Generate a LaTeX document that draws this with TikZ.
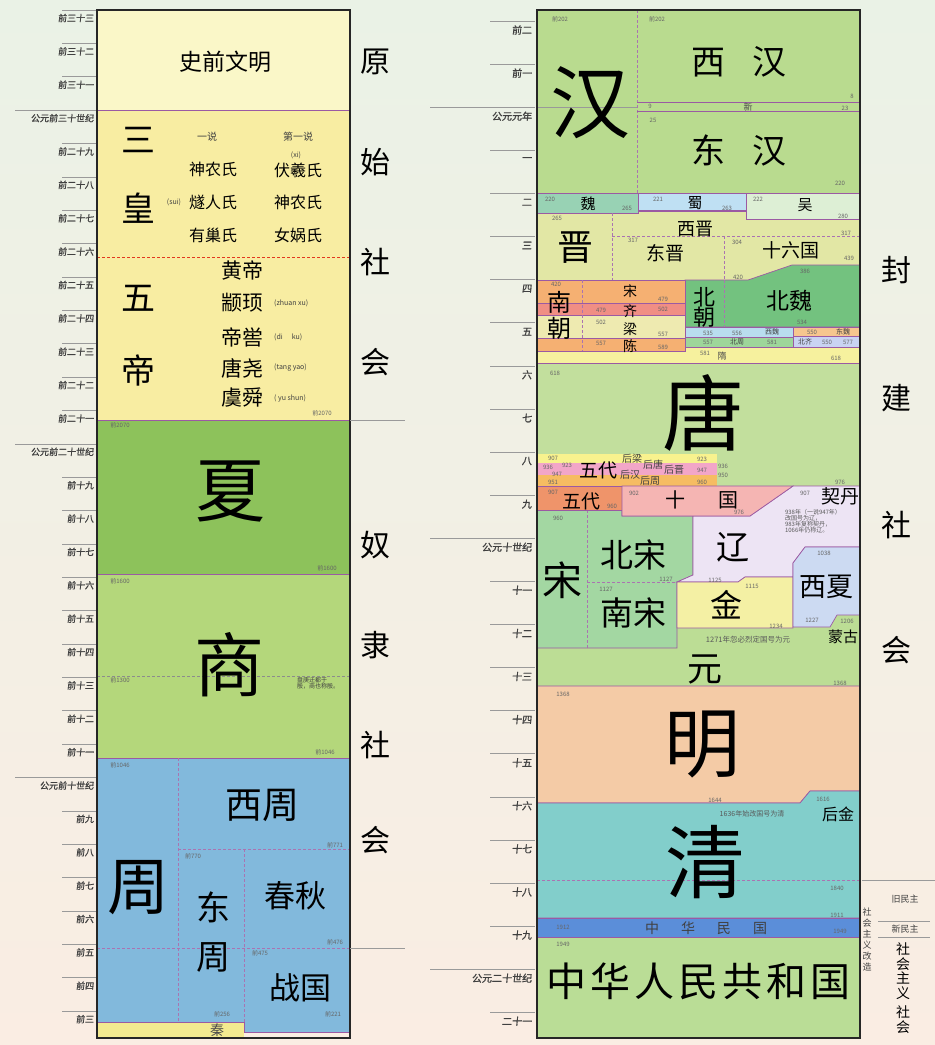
\documentclass[tikz,border=0pt]{standalone}
\usepackage{fontspec}
\setmainfont{Noto Sans CJK SC}
\newfontfamily\tickfont{Noto Sans CJK SC}[FakeBold=1.2,FakeSlant=0.1]
\usetikzlibrary{positioning,calc}

\newcommand\setfs[1]{\fontsize{#1}{#1}\selectfont}

\definecolor{bgtop}{HTML}{EAF2E6}
\definecolor{bgbot}{HTML}{FAEDE3}
\definecolor{tickc}{HTML}{9A9A9A}
\definecolor{linep}{HTML}{9B5AA3}
\definecolor{preyel}{HTML}{FAF7C8}
\definecolor{sanhuang}{HTML}{F8EDA2}
\definecolor{xia}{HTML}{8DC25B}
\definecolor{shang}{HTML}{B4D77B}
\definecolor{zhou}{HTML}{82B9DC}
\definecolor{qin}{HTML}{F3EA90}
\definecolor{han}{HTML}{B9DB8F}
\definecolor{wei}{HTML}{98D2B4}
\definecolor{shu}{HTML}{BFE0F3}
\definecolor{wu}{HTML}{DDEFD5}
\definecolor{jin}{HTML}{E2E7A5}
\definecolor{beiwei}{HTML}{73C27F}
\definecolor{nanorange}{HTML}{F5B072}
\definecolor{qi}{HTML}{F08E84}
\definecolor{liang}{HTML}{EEEAB0}
\definecolor{xiwei}{HTML}{B9DDEF}
\definecolor{dongwei}{HTML}{F6C68E}
\definecolor{beizhou}{HTML}{9ED69A}
\definecolor{beiqi}{HTML}{C9D3F2}
\definecolor{sui}{HTML}{F6F19E}
\definecolor{tang}{HTML}{C2DF9D}
\definecolor{wdyel}{HTML}{F8F28E}
\definecolor{wdpink}{HTML}{F2A6C8}
\definecolor{wdorange}{HTML}{F6BC62}
\definecolor{wdred}{HTML}{EF946A}
\definecolor{shiguo}{HTML}{F5B5B3}
\definecolor{liao}{HTML}{EDE4F4}
\definecolor{song}{HTML}{A3D7A2}
\definecolor{jinyel}{HTML}{F4F0A4}
\definecolor{xixia}{HTML}{CCDAF2}
\definecolor{yuan}{HTML}{BCDD95}
\definecolor{ming}{HTML}{F4CBA6}
\definecolor{qing}{HTML}{82CECB}
\definecolor{mg}{HTML}{5B8ED9}
\definecolor{prc}{HTML}{BADD96}

\begin{document}
\begin{tikzpicture}[
        x = 1pt, y = -1pt,
        blk/.style = {draw=linep, line width=0.7pt},
        dsep/.style = {draw=linep!85, line width=0.6pt, dash pattern=on 3pt off 2pt},
        tick/.style = {draw=tickc, line width=0.6pt},
        ticklab/.style = {anchor=east, inner sep=0pt, text=black!75},
        dyn/.style = {inner sep=0pt, font=\setfs{#1}},
        note/.style = {inner sep=0pt, font=\setfs{#1}, text=black!75},
        yr/.style = {inner sep=0pt, font=\setfs{6}, text=black!60},
        era/.style = {inner sep=0pt, font=\setfs{30}}
    ]
    \useasboundingbox (0,0) rectangle (935,1045);
    \shade [top color=bgtop, bottom color=bgbot] (0,0) rectangle (935,1045);

    % Axes
    \foreach \k/\t in {0/前三十三,1/前三十二,2/前三十一,3/公元前三十世纪,4/前二十九,5/前二十八,6/前二十七,7/前二十六,8/前二十五,9/前二十四,10/前二十三,11/前二十二,12/前二十一,13/公元前二十世纪,14/前十九,15/前十八,16/前十七,17/前十六,18/前十五,19/前十四,20/前十三,21/前十二,22/前十一,23/公元前十世纪,24/前九,25/前八,26/前七,27/前六,28/前五,29/前四,30/前三}{
        \draw [tick] (62,{10+33.37*\k}) -- (96,{10+33.37*\k});
        \node [ticklab, font={\tickfont\setfs{9}}] at (94,{18+33.37*\k}) (lt\k) {\t};
    }
    \foreach \k in {3,13,23} \draw [tick] (15,{10+33.37*\k}) -- (62,{10+33.37*\k});

    \foreach \k/\t in {0/前二,1/前一,2/公元元年,3/一,4/二,5/三,6/四,7/五,8/六,9/七,10/八,11/九,12/公元十世纪,13/十一,14/十二,15/十三,16/十四,17/十五,18/十六,19/十七,20/十八,21/十九,22/公元二十世纪,23/二十一}{
        \draw [tick] (490,{21+43.1*\k}) -- (535,{21+43.1*\k});
        \node [ticklab, font={\tickfont\setfs{10}}] at (532,{30+43.1*\k}) (rt\k) {\t};
    }
    \foreach \k in {2,12,22} \draw [tick] (430,{21+43.1*\k}) -- (490,{21+43.1*\k});

    % Left column blocks
    \fill [preyel] (97,10) rectangle (350,110);
    \fill [sanhuang] (97,110) rectangle (350,420);
    \fill [xia] (97,420) rectangle (350,574);
    \fill [shang] (97,574) rectangle (350,758);
    \fill [zhou] (97,758) rectangle (350,1022);
    \fill [zhou] (244,1022) rectangle (350,1032);
    \fill [qin] (97,1022) rectangle (244,1038);
    \draw [blk] (97,110) -- (350,110);
    \draw [blk] (97,420) -- (350,420);
    \draw [blk] (97,574) -- (350,574);
    \draw [blk] (97,758) -- (350,758);
    \draw [dsep, draw=red!55!brown] (97,257) -- (350,257);
    \draw [dsep, draw=black!45] (97,676) -- (350,676);
    \draw [dsep] (178,758) -- (178,1022);
    \draw [dsep] (178,849) -- (350,849);
    \draw [dsep] (244,849) -- (244,1022);
    \draw [dsep] (97,948) -- (350,948);
    \draw [blk] (97,1022) -- (244,1022) -- (244,1032) -- (350,1032);
    \draw [line width=1.3pt, black!85] (97,10) rectangle (350,1038);

    \node [dyn=23] at (225,62) (shiqian) {史前文明};
    \node [dyn=34] at (138,140) (san) {三};
    \node [dyn=34] at (138,208) (huang) {皇};
    \node [note=10] at (207,137) (yishuo) {一说};
    \node [note=10] at (298,137) (dishuo) {第一说};
    \node [note=7] at (296,155) (pxi) {(xi)};
    \node [dyn=16] at (213,169) (shennong1) {神农氏};
    \node [dyn=16] at (298,170) (fuxi) {伏羲氏};
    \node [note=7] at (174,202) (psui) {(sui)};
    \node [dyn=16] at (213,202) (suiren) {燧人氏};
    \node [dyn=16] at (298,202) (shennong2) {神农氏};
    \node [dyn=16] at (213,235) (youchao) {有巢氏};
    \node [dyn=16] at (298,235) (nuwa) {女娲氏};

    \node [dyn=34] at (138,298) (wu) {五};
    \node [dyn=34] at (138,370) (di) {帝};
    \node [dyn=21] at (242,270) (huangdi) {黄帝};
    \node [dyn=21] at (242,303) (zhuanxu) {颛顼};
    \node [dyn=21] at (242,337) (diku) {帝喾};
    \node [dyn=21] at (242,368) (tangyao) {唐尧};
    \node [dyn=21] at (242,398) (yushun) {虞舜};
    \node [note=7, anchor=west] at (274,303) (pzx) {(zhuan xu)};
    \node [note=7, anchor=west] at (274,337) (pdk) {(di\hspace{9pt}ku)};
    \node [note=7, anchor=west] at (274,368) (pty) {(tang yao)};
    \node [note=7, anchor=west] at (274,398) (pys) {( yu shun)};
    \node [yr] at (322,413) (y2070a) {前2070};

    \node [yr] at (120,425) (y2070b) {前2070};
    \node [dyn=70] at (230,492) (xiachao) {夏};
    \node [yr] at (327,568) (y1600a) {前1600};
    \node [yr] at (120,581) (y1600b) {前1600};
    \node [dyn=70] at (229,665) (shangchao) {商};
    \node [yr] at (120,680) (y1300) {前1300};
    \node [note=6, align=left] at (318,683) (pangeng) {盘庚迁都于\\殷，商也称殷。};
    \node [yr] at (325,752) (y1046a) {前1046};

    \node [yr] at (120,765) (y1046b) {前1046};
    \node [dyn=62] at (138,888) (zhouchao) {周};
    \node [dyn=37] at (262,805) (xizhou) {西周};
    \node [yr] at (335,845) (y771) {前771};
    \node [yr] at (193,856) (y770) {前770};
    \node [dyn=34] at (213,907) (dong) {东};
    \node [dyn=34] at (213,957) (zhou2) {周};
    \node [dyn=31] at (295,896) (chunqiu) {春秋};
    \node [yr] at (335,942) (y476) {前476};
    \node [yr] at (260,953) (y475) {前475};
    \node [dyn=31] at (300,988) (zhanguo) {战国};
    \node [yr] at (222,1014) (y256) {前256};
    \node [yr] at (333,1014) (y221) {前221};
    \node [dyn=14, text=black!70] at (217,1030) (qinchao) {秦};

    % Society labels, left
    \node [era] at (375,62) (yuan1) {原};
    \node [era] at (375,162) (yuan2) {始};
    \node [era] at (375,262) (yuan3) {社};
    \node [era] at (375,362) (yuan4) {会};
    \node [era] at (375,545) (nuli1) {奴};
    \node [era] at (375,645) (nuli2) {隶};
    \node [era] at (375,745) (nuli3) {社};
    \node [era] at (375,840) (nuli4) {会};
    \draw [tick] (350,420) -- (405,420);
    \draw [tick] (350,948) -- (405,948);

    % Right column blocks
    \filldraw [blk, fill=han] (537,10) rectangle (860,193);
    \draw [dsep] (637,10) -- (637,193);
    \draw [blk] (637,102) -- (860,102);
    \draw [blk] (637,111) -- (860,111);
    \draw [black!40, line width=0.4pt] (537,107) -- (637,107);
    \filldraw [blk, fill=jin] (537,211) rectangle (860,280);
    \filldraw [blk, fill=wei] (537,193) rectangle (638,213);
    \filldraw [blk, fill=shu] (638,193) rectangle (746,210);
    \filldraw [blk, fill=wu] (746,193) rectangle (860,219);
    \draw [dsep] (612,213) -- (612,280);
    \draw [dsep] (612,236) -- (860,236);
    \draw [dsep] (724,236) -- (724,280);
    \filldraw [blk, fill=beiwei] (685,280) -- (748,280) -- (792,265) -- (860,265) -- (860,327) -- (685,327) -- cycle;
    \draw [dsep] (724,280) -- (724,327);
    \filldraw [blk, fill=sui] (537,347) rectangle (860,363);
    \filldraw [blk, fill=nanorange] (537,280) rectangle (685,303);
    \filldraw [blk, fill=qi] (537,303) rectangle (685,315);
    \filldraw [blk, fill=liang] (537,315) rectangle (685,338);
    \filldraw [blk, fill=nanorange] (537,338) rectangle (685,351);
    \draw [dsep] (582,280) -- (582,351);
    \filldraw [blk, fill=xiwei] (685,327) rectangle (793,337);
    \filldraw [blk, fill=dongwei] (793,327) rectangle (860,336);
    \filldraw [blk, fill=beizhou] (685,337) rectangle (793,347);
    \filldraw [blk, fill=beiqi] (793,336) rectangle (860,347);

    \filldraw [blk, fill=tang] (537,363) rectangle (860,486);
    \fill [wdyel] (538,454) rectangle (717,463);
    \fill [wdpink] (538,463) rectangle (717,475);
    \fill [wdorange] (538,475) rectangle (717,486);

    \filldraw [blk, fill=yuan] (537,486) rectangle (860,686);
    \filldraw [blk, fill=song] (537,510) -- (622,510) -- (622,516) -- (693,516) -- (693,575) -- (677,582) -- (677,648) -- (537,648) -- cycle;
    \draw [dsep] (587,510) -- (587,648);
    \draw [dsep] (587,582) -- (677,582);
    \filldraw [blk, fill=wdred] (537,486) rectangle (622,510);
    \filldraw [blk, fill=liao] (693,516) -- (750,516) -- (793,486) -- (860,486) -- (860,547) -- (805,547) -- (793,563) -- (793,577) -- (745,577) -- (738,582) -- (677,582) -- (693,575) -- cycle;
    \filldraw [blk, fill=shiguo] (622,486) -- (793,486) -- (750,516) -- (622,516) -- cycle;
    \filldraw [blk, fill=jinyel] (677,582) -- (738,582) -- (745,577) -- (793,577) -- (793,628) -- (677,628) -- cycle;
    \filldraw [blk, fill=xixia] (793,563) -- (805,547) -- (860,547) -- (860,615) -- (837,615) -- (830,627) -- (793,627) -- cycle;

    \filldraw [blk, fill=ming] (537,686) -- (860,686) -- (860,791) -- (810,791) -- (800,803) -- (537,803) -- cycle;
    \filldraw [blk, fill=qing] (537,803) -- (800,803) -- (810,791) -- (860,791) -- (860,918) -- (537,918) -- cycle;
    \draw [dsep] (537,880) -- (860,880);
    \filldraw [blk, fill=mg] (537,918) rectangle (860,937);
    \filldraw [blk, fill=prc] (537,937) rectangle (860,1038);
    \draw [line width=1.3pt, black!85] (537,10) rectangle (860,1038);

    % Right column labels
    \node [yr] at (560,19) (r202a) {前202};
    \node [yr] at (657,19) (r202b) {前202};
    \node [dyn=80] at (590,103) (hanchao) {汉};
    \node [dyn=34] at (739,62) (xihan) {西\hspace{28pt}汉};
    \node [yr] at (852,96) (r8) {8};
    \node [yr] at (650,106) (r9) {9};
    \node [dyn=9, text=black!70] at (748,107) (xin) {新};
    \node [yr] at (845,108) (r23) {23};
    \node [yr] at (653,120) (r25) {25};
    \node [dyn=34] at (739,150) (donghan) {东\hspace{28pt}汉};
    \node [yr] at (840,183) (r220a) {220};

    \node [yr] at (550,199) (r220b) {220};
    \node [dyn=15] at (588,204) (weiguo) {魏};
    \node [yr] at (627,208) (r265a) {265};
    \node [yr] at (658,199) (r221) {221};
    \node [dyn=15] at (695,203) (shuguo) {蜀};
    \node [yr] at (727,208) (r263) {263};
    \node [yr] at (758,199) (r222) {222};
    \node [dyn=15] at (805,205) (wuguo) {吴};
    \node [yr] at (843,216) (r280) {280};

    \node [yr] at (557,218) (r265b) {265};
    \node [dyn=36] at (575,248) (jinchao) {晋};
    \node [dyn=18] at (695,229) (xijin) {西晋};
    \node [yr] at (846,233) (r317a) {317};
    \node [yr] at (633,240) (r317b) {317};
    \node [dyn=19] at (665,253) (dongjin) {东晋};
    \node [yr] at (737,242) (r304) {304};
    \node [dyn=19] at (791,250) (shiliuguo) {十六国};
    \node [yr] at (849,258) (r439) {439};
    \node [yr] at (805,271) (r386) {386};
    \node [yr] at (738,277) (r420a) {420};

    \node [yr] at (556,284) (r420b) {420};
    \node [dyn=24] at (559,302) (nan) {南};
    \node [dyn=24] at (559,328) (chao1) {朝};
    \node [dyn=14] at (630,291) (songnan) {宋};
    \node [dyn=14] at (630,311) (qinan) {齐};
    \node [dyn=14] at (630,329) (liangnan) {梁};
    \node [dyn=14] at (630,346) (chennan) {陈};
    \node [yr] at (663,299) (r479a) {479};
    \node [yr] at (601,310) (r479b) {479};
    \node [yr] at (663,309) (r502a) {502};
    \node [yr] at (601,322) (r502b) {502};
    \node [yr] at (663,334) (r557a) {557};
    \node [yr] at (601,343) (r557b) {557};
    \node [yr] at (663,347) (r589) {589};
    \node [dyn=22] at (704,297) (bei) {北};
    \node [dyn=22] at (704,317) (chao2) {朝};
    \node [dyn=23] at (789,301) (beiweiguo) {北魏};
    \node [yr] at (802,322) (r534) {534};
    \node [yr] at (708,333) (r535) {535};
    \node [yr] at (737,333) (r556) {556};
    \node [note=7] at (772,332) (xiweiguo) {西魏};
    \node [yr] at (812,332) (r550a) {550};
    \node [note=7] at (843,332) (dongweiguo) {东魏};
    \node [yr] at (708,342) (r557c) {557};
    \node [note=7] at (737,342) (beizhouguo) {北周};
    \node [yr] at (772,342) (r581a) {581};
    \node [note=7] at (805,342) (beiqiguo) {北齐};
    \node [yr] at (827,342) (r550b) {550};
    \node [yr] at (848,342) (r577) {577};
    \node [yr] at (705,353) (r581b) {581};
    \node [dyn=9, text=black!70] at (722,356) (suichao) {隋};
    \node [yr] at (836,358) (r618a) {618};

    \node [yr] at (555,373) (r618b) {618};
    \node [dyn=82] at (703,413) (tangchao) {唐};
    \node [yr] at (840,482) (r976a) {976};
    \node [yr] at (553,458) (r907a) {907};
    \node [note=10] at (632,459) (houliang) {后梁};
    \node [yr] at (702,459) (r923a) {923};
    \node [yr] at (548,467) (r936a) {936};
    \node [yr] at (567,465) (r923b) {923};
    \node [yr] at (557,474) (r947a) {947};
    \node [dyn=19] at (598,470) (wudai1) {五代};
    \node [note=10] at (653,465) (houtang) {后唐};
    \node [note=10] at (674,470) (houjin) {后晋};
    \node [note=10] at (630,475) (houhan) {后汉};
    \node [note=10] at (650,481) (houzhou) {后周};
    \node [yr] at (553,482) (r951) {951};
    \node [yr] at (702,470) (r947b) {947};
    \node [yr] at (702,482) (r960a) {960};
    \node [yr] at (723,466) (r936b) {936};
    \node [yr] at (723,475) (r950) {950};

    \node [yr] at (553,492) (r907b) {907};
    \node [dyn=19] at (581,501) (wudai2) {五代};
    \node [yr] at (612,506) (r960b) {960};
    \node [yr] at (634,493) (r902) {902};
    \node [dyn=20] at (675,500) (shi) {十};
    \node [dyn=20] at (728,500) (guo) {国};
    \node [yr] at (739,512) (r976b) {976};
    \node [yr] at (805,493) (r907c) {907};
    \node [dyn=19] at (840,496) (qidan) {契丹};
    \node [note=6, align=left, text=black!65] at (813,521) (liaonote) {938年（一说947年）\\改国号为辽，\\983年复称契丹，\\1066年仍称辽。};
    \node [dyn=33] at (733,547) (liaochao) {辽};

    \node [yr] at (558,518) (r960c) {960};
    \node [dyn=40] at (562,580) (songchao) {宋};
    \node [dyn=33] at (633,555) (beisong) {北宋};
    \node [yr] at (666,579) (r1127a) {1127};
    \node [yr] at (606,589) (r1127b) {1127};
    \node [dyn=33] at (633,613) (nansong) {南宋};
    \node [yr] at (715,580) (r1125) {1125};
    \node [yr] at (752,586) (r1115) {1115};
    \node [dyn=32] at (726,605) (jinguo) {金};
    \node [yr] at (776,626) (r1234) {1234};
    \node [yr] at (824,553) (r1038) {1038};
    \node [dyn=27] at (826,587) (xixiaguo) {西夏};
    \node [yr] at (812,620) (r1227) {1227};
    \node [yr] at (847,621) (r1206) {1206};
    \node [dyn=15] at (843,637) (menggu) {蒙古};
    \node [note=7.5, text=black!65] at (748,640) (yuannote) {1271年忽必烈定国号为元};
    \node [dyn=35] at (705,670) (yuanchao) {元};
    \node [yr] at (840,683) (r1368a) {1368};

    \node [yr] at (563,694) (r1368b) {1368};
    \node [dyn=76] at (702,745) (mingchao) {明};
    \node [yr] at (715,800) (r1644) {1644};
    \node [yr] at (823,799) (r1616) {1616};
    \node [note=7, text=black!65] at (752,814) (qingnote) {1636年始改国号为清};
    \node [dyn=16] at (838,814) (houjinguo) {后金};
    \node [dyn=80] at (705,862) (qingchao) {清};
    \node [yr] at (837,888) (r1840) {1840};
    \node [yr] at (837,915) (r1911) {1911};
    \node [yr] at (563,927) (r1912) {1912};
    \node [dyn=14, text=black!75] at (706,928) (minguo) {中\hspace{22pt}华\hspace{22pt}民\hspace{22pt}国};
    \node [yr] at (840,931) (r1949a) {1949};
    \node [yr] at (563,944) (r1949b) {1949};
    \node [dyn=40] at (698,981) (prcname) {中\hspace{4pt}华\hspace{4pt}人\hspace{4pt}民\hspace{4pt}共\hspace{4pt}和\hspace{4pt}国};

    % Society labels, right
    \node [era] at (896,270) (feng1) {封};
    \node [era] at (896,398) (feng2) {建};
    \node [era] at (896,525) (feng3) {社};
    \node [era] at (896,650) (feng4) {会};
    \draw [tick] (862,880) -- (935,880);
    \node [note=9] at (905,899) (jiumin) {旧民主};
    \draw [tick] (878,921) -- (930,921);
    \node [note=9] at (905,929) (xinmin) {新民主};
    \draw [tick] (878,937) -- (930,937);
    \node [note=9, align=center, font=\fontsize{9}{11}\selectfont] at (867,940) (gaizao) {社\\会\\主\\义\\改\\造};
    \node [dyn=14, align=center, font=\fontsize{14}{14.5}\selectfont] at (903,971) (shzy) {社\\会\\主\\义};
    \node [dyn=14, align=center, font=\fontsize{14}{15}\selectfont] at (903,1020) (shehui) {社\\会};

\end{tikzpicture}
\end{document}
